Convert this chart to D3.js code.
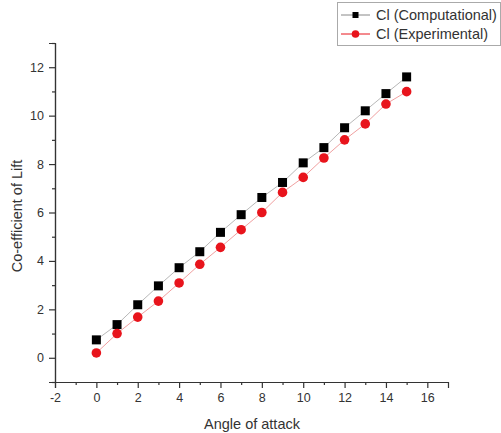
<!doctype html>
<html lang="en">
<head>
<meta charset="utf-8">
<style>
  body, html { margin:0; padding:0; background:white; overflow:hidden; }
  svg { position:absolute; top:0; left:0; }
  text { font-family: "Liberation Sans", Arial, sans-serif; fill:#333; }
</style>
</head>
<body>
<div id="chart"></div>
<script src="https://d3js.org/d3.v7.min.js"></script>
<script>
const angles = [0,1,2,3,4,5,6,7,8,9,10,11,12,13,14,15];
const clComputational = [0.74,1.37,2.19,2.97,3.72,4.38,5.18,5.91,6.62,7.24,8.05,8.68,9.5,10.2,10.91,11.6];
const clExperimental = [0.2,1.0,1.68,2.34,3.09,3.86,4.56,5.29,6.0,6.83,7.45,8.25,9.0,9.66,10.48,10.99];
const xTicks = [-2,0,2,4,6,8,10,12,14,16];
const yTicks = [0,2,4,6,8,10,12];
const seriesNames = ["Cl (Computational)", "Cl (Experimental)"];

const W = 501, H = 433;
const svg = d3.select("#chart").append("svg").attr("width", W).attr("height", H);

const x = d3.scaleLinear().domain([-2, 17]).range([55, 448]);
const y = d3.scaleLinear().domain([-1, 13]).range([382, 43]);

// axes (plain hyphen for negatives, like the original)
const fmt = d => String(d);
const xAxis = d3.axisBottom(x).tickValues(xTicks).tickFormat(fmt).tickSizeOuter(0).tickSize(6).tickPadding(5);
const xMinor = d3.axisBottom(x).tickValues(d3.range(-1, 17, 2)).tickSize(3).tickFormat("").tickSizeOuter(0);
const yAxis = d3.axisLeft(y).tickValues(yTicks).tickFormat(fmt).tickSizeOuter(0).tickSize(6).tickPadding(5);
const yMinor = d3.axisLeft(y).tickValues(d3.range(-1, 14, 2)).tickSize(3).tickFormat("").tickSizeOuter(0);

function styleAxis(g) {
  g.selectAll("path, line").attr("stroke", "#333").attr("stroke-width", 1.2);
  g.selectAll("text").style("font-family", "Liberation Sans, Arial, sans-serif")
    .style("font-size", "12.5px").attr("fill", "#333");
}

svg.append("g").attr("transform", `translate(0,${y(-1)})`).call(xMinor).call(styleAxis);
svg.append("g").attr("transform", `translate(0,${y(-1)})`).call(xAxis).call(styleAxis);
svg.append("g").attr("transform", `translate(${x(-2)},0)`).call(yMinor).call(styleAxis);
svg.append("g").attr("transform", `translate(${x(-2)},0)`).call(yAxis).call(styleAxis);

// axis titles
svg.append("text").attr("x", 252).attr("y", 429).attr("text-anchor", "middle")
  .style("font-size", "14.5px").text("Angle of attack");
svg.append("text").attr("transform", "translate(22,216) rotate(-90)").attr("text-anchor", "middle")
  .style("font-size", "14.5px").text("Co-efficient of Lift");

// series
const comp = angles.map((a, i) => [a, clComputational[i]]);
const expe = angles.map((a, i) => [a, clExperimental[i]]);
const line = d3.line().x(d => x(d[0])).y(d => y(d[1]));

svg.append("path").datum(comp).attr("d", line).attr("fill", "none").attr("stroke", "#b8b8b8").attr("stroke-width", 1);
svg.append("path").datum(expe).attr("d", line).attr("fill", "none").attr("stroke", "#f0a0a0").attr("stroke-width", 1);

svg.selectAll("rect.comp").data(comp).enter().append("rect").attr("class", "comp")
  .attr("x", d => x(d[0]) - 4.5).attr("y", d => y(d[1]) - 4.5)
  .attr("width", 9).attr("height", 9).attr("fill", "#000");

svg.selectAll("circle.exp").data(expe).enter().append("circle").attr("class", "exp")
  .attr("cx", d => x(d[0])).attr("cy", d => y(d[1])).attr("r", 4.8).attr("fill", "#e8141c");

// legend
const lg = svg.append("g");
lg.append("rect").attr("x", 337.5).attr("y", 2.5).attr("width", 163).attr("height", 43)
  .attr("fill", "white").attr("stroke", "#aaa").attr("stroke-width", 1);
[0, 1].forEach(i => {
  const ly = 15 + i * 19;
  lg.append("line").attr("x1", 341).attr("x2", 370).attr("y1", ly).attr("y2", ly)
    .attr("stroke", i === 0 ? "#888" : "#e8141c").attr("stroke-width", 1);
  if (i === 0) {
    lg.append("rect").attr("x", 352.5).attr("y", ly - 3).attr("width", 6).attr("height", 6).attr("fill", "#000");
  } else {
    lg.append("circle").attr("cx", 355.5).attr("cy", ly).attr("r", 3.8).attr("fill", "#e8141c");
  }
  lg.append("text").attr("x", 376).attr("y", ly + 5).style("font-size", "14.5px").text(seriesNames[i]);
});
</script>
</body>
</html>
